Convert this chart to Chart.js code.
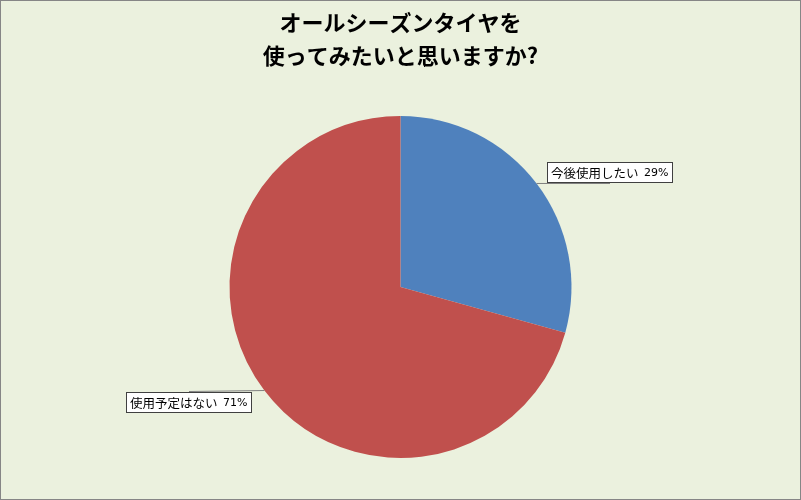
<!DOCTYPE html>
<html>
<head>
<meta charset="utf-8">
<script src="https://cdn.jsdelivr.net/npm/chart.js@4"></script>
<style>
  html, body { margin: 0; padding: 0; background: #EBF1DE; }
  #wrap { width: 801px; height: 500px; position: relative; }
</style>
</head>
<body>
<div id="wrap"><canvas id="chart"></canvas></div>
<script>
var titleLines = ['オールシーズンタイヤを', '使ってみたいと思いますか?'];
var categories = ['今後使用したい', '使用予定はない'];
var values = [29.3, 70.7];
var colors = ['#4F81BD', '#C0504D'];

// background + outer border
var frame = {
    id: 'frame',
    beforeDraw: function(chart) {
        var c = chart.ctx;
        c.save();
        c.fillStyle = '#EBF1DE';
        c.fillRect(0, 0, chart.width, chart.height);
        c.strokeStyle = '#868686';
        c.lineWidth = 1;
        c.strokeRect(0.5, 0.5, chart.width - 1, chart.height - 1);
        c.restore();
    }
};

// boxed data labels with leader lines
var boxLabels = {
    id: 'boxLabels',
    afterDatasetsDraw: function(chart) {
        var c = chart.ctx;
        var meta = chart.getDatasetMeta(0);
        var total = values.reduce(function(a, b) { return a + b; }, 0);
        c.save();
        c.textBaseline = 'middle';
        meta.data.forEach(function(arc, i) {
            var p = arc.getProps(['x', 'y', 'startAngle', 'endAngle', 'outerRadius'], true);
            var mid = (p.startAngle + p.endAngle) / 2;
            var ex = p.x + Math.cos(mid) * p.outerRadius;
            var ey = p.y + Math.sin(mid) * p.outerRadius;
            var name = categories[i] + '  ';
            var pct = Math.round(values[i] / total * 100) + '%';
            c.font = '12.5px "Noto Sans CJK JP", sans-serif';
            var w1 = c.measureText(name).width;
            c.font = '11px "DejaVu Sans", sans-serif';
            var w2 = c.measureText(pct).width;
            var w = Math.round(w1 + w2) + 8;
            var h = 21;
            var right = Math.cos(mid) >= 0;
            var bx, by;
            if (right) {
                bx = Math.round(ex) + 10;
                by = Math.round(ey) - h;
            } else {
                bx = Math.round(ex) - 12 - w;
                by = Math.round(ey) + 1;
            }
            // leader line
            c.strokeStyle = '#808080';
            c.lineWidth = 1;
            c.beginPath();
            c.moveTo(ex, ey);
            c.lineTo(bx + w / 2, Math.round(ey) + 0.5);
            c.stroke();
            // box
            c.fillStyle = '#FFFFFF';
            c.fillRect(bx, by, w, h);
            c.strokeStyle = '#404040';
            c.strokeRect(bx + 0.5, by + 0.5, w - 1, h - 1);
            c.fillStyle = '#000000';
            c.textAlign = 'left';
            c.font = '12.5px "Noto Sans CJK JP", sans-serif';
            c.fillText(name, bx + 4, by + h / 2 + 1);
            c.font = '11px "DejaVu Sans", sans-serif';
            c.fillText(pct, bx + 4 + w1, by + h / 2 + 1);
        });
        c.restore();
    }
};

new Chart(document.getElementById('chart'), {
    type: 'pie',
    data: {
        labels: categories,
        datasets: [{
            data: values,
            backgroundColor: colors,
            borderWidth: 0
        }]
    },
    options: {
        responsive: true,
        maintainAspectRatio: false,
        animation: false,
        layout: {
            padding: { top: 0, bottom: 42, left: 0, right: 0 }
        },
        plugins: {
            legend: { display: false },
            tooltip: { enabled: false },
            title: {
                display: true,
                text: titleLines,
                color: '#000000',
                font: { family: '"Noto Sans CJK JP", sans-serif', size: 22, weight: 'bold', lineHeight: 1.5 },
                padding: { top: 6, bottom: 44 }
            }
        }
    },
    plugins: [frame, boxLabels]
});
</script>
</body>
</html>
